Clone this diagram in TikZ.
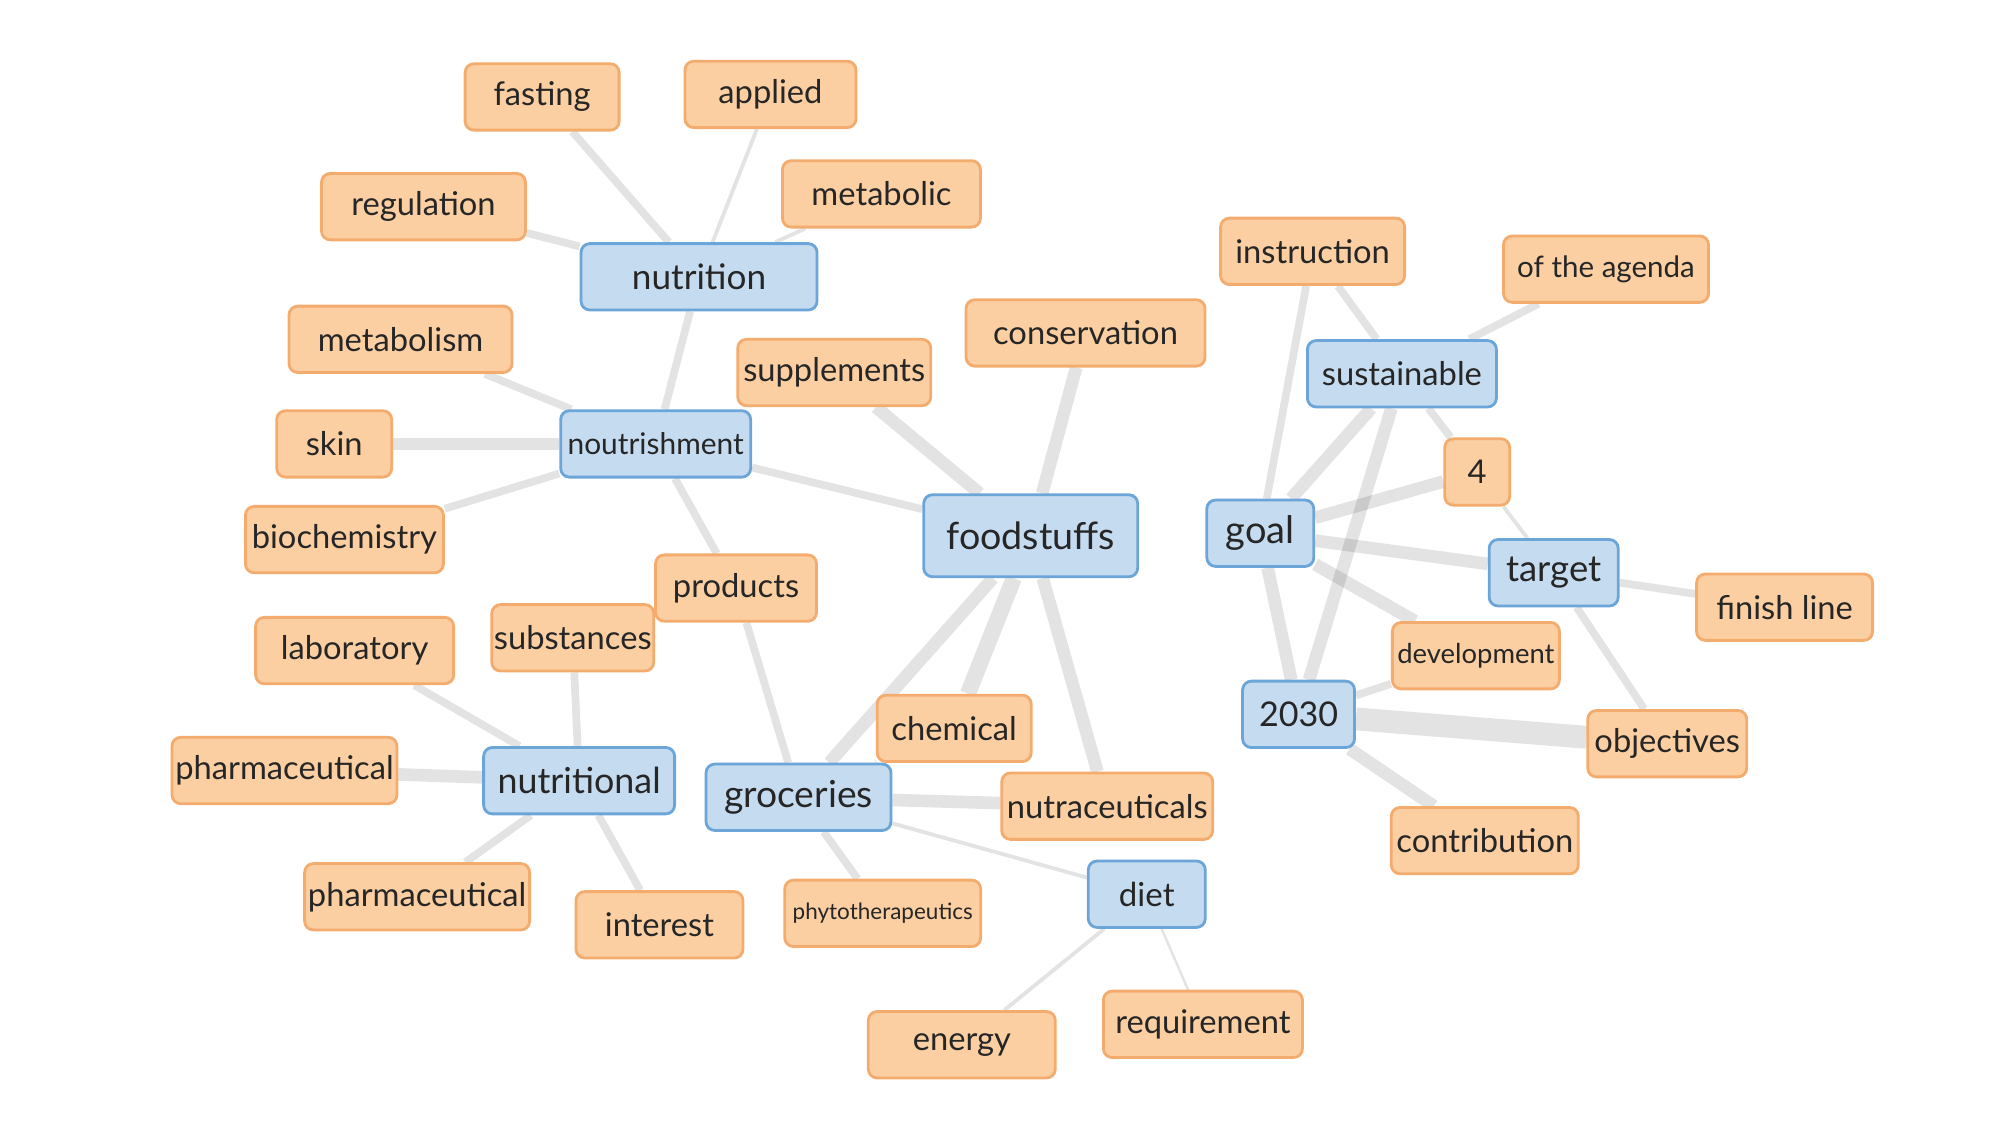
\documentclass[tikz,border=0pt]{standalone}
\usepackage{fontspec}
\setmainfont{Lato}
\usetikzlibrary{backgrounds}
\definecolor{peach}{RGB}{252,207,162}
\definecolor{peachline}{RGB}{243,172,110}
\definecolor{sky}{RGB}{197,219,240}
\definecolor{skyline}{RGB}{108,165,216}
\begin{document}
\begin{tikzpicture}[x=0.01276cm, y=-0.01276cm,
	fs/.style={font=\fontsize{#1}{#1}\selectfont},
	every node/.style={rounded corners=2.5pt, line width=0.8pt, inner sep=0pt, minimum height=0.664cm, text=black!85, fs=9.3},
	leaf/.style={draw=peachline, fill=peach, minimum width=#1cm},
	hub/.style={draw=skyline, fill=sky, minimum width=#1cm, fs=10.3},
	link/.style={draw=black, opacity=0.11, line cap=butt},
	w1/.style={link, line width=1.1pt},
	w2/.style={link, line width=2.2pt},
	w3/.style={link, line width=3.6pt},
	w4/.style={link, line width=4.6pt},
	w5/.style={link, line width=6.5pt}]
	
	\useasboundingbox (0cm,0cm) rectangle (20cm,-11.25cm);
	
	% Nutrition cluster
	\node[hub=2.36, fs=10] (nutrition) at (548,217) {nutrition};
	\node[leaf=1.54] (fasting) at (425,76) {fasting};
	\node[leaf=1.71] (applied) at (604,74) {applied};
	\node[leaf=2.04] (regulation) at (332,162) {regulation};
	\node[leaf=1.98] (metabolic) at (691,152) {metabolic};
	
	% Noutrishment cluster
	\node[hub=1.90, fs=8.5] (noutrishment) at (514,348) {noutrishment};
	\node[leaf=2.23] (metabolism) at (314,266) {metabolism};
	\node[leaf=1.15] (skin) at (262,348) {skin};
	\node[leaf=1.98] (biochemistry) at (270,423) {biochemistry};
	\node[leaf=1.61] (products) at (577,461) {products};
	
	% Foodstuffs
	\node[hub=2.14, minimum height=0.82cm, fs=10.7] (foodstuffs) at (808,420) {foodstuffs};
	\node[leaf=1.93] (supplements) at (654,292) {supplements};
	\node[leaf=2.39] (conservation) at (851,261) {conservation};
	\node[leaf=1.54] (chemical) at (748,571) {chemical};
	\node[leaf=2.11] (nutraceuticals) at (868,632) {nutraceuticals};
	
	% Nutritional cluster
	\node[hub=1.91, fs=10.2] (nutritional) at (454,612) {nutritional};
	\node[leaf=1.62] (substances) at (449,500) {substances};
	\node[leaf=1.98] (laboratory) at (278,510) {laboratory};
	\node[leaf=2.25] (pharmaA) at (223,604) {pharmaceutical};
	\node[leaf=2.25] (pharmaB) at (327,703) {pharmaceutical};
	\node[leaf=1.67] (interest) at (517,725) {interest};
	
	% Groceries and diet
	\node[hub=1.85, fs=10.6] (groceries) at (626,625) {groceries};
	\node[leaf=1.96, fs=6.4] (phyto) at (692,716) {phytotherapeutics};
	\node[hub=1.17, fs=9.4] (diet) at (899,701) {diet};
	\node[leaf=1.87] (energy) at (754,819) {energy};
	\node[leaf=1.99] (requirement) at (943,803) {requirement};
	
	% Goal cluster
	\node[hub=1.07, fs=10.8] (goal) at (988,418) {goal};
	\node[hub=1.89, fs=9.3] (sustainable) at (1099,293) {sustainable};
	\node[hub=1.29, fs=10.4] (target) at (1218,449) {target};
	\node[hub=1.12, fs=9.7] (y2030) at (1018,560) {2030};
	\node[leaf=1.84] (instruction) at (1029,197) {instruction};
	\node[leaf=2.05, fs=8.4] (agenda) at (1259,211) {of the agenda};
	\node[leaf=0.65] (four) at (1158,370) {4};
	\node[leaf=1.67, fs=7.8] (development) at (1157,514) {development};
	\node[leaf=1.76] (finish) at (1399,476) {finish line};
	\node[leaf=1.59] (objectives) at (1307,583) {objectives};
	\node[leaf=1.87] (contribution) at (1164,659) {contribution};
	
	% Links
	\begin{scope}[on background layer]
		\draw[w2] (nutrition) -- (fasting);
		\draw[w1] (nutrition) -- (applied);
		\draw[w2] (nutrition) -- (regulation);
		\draw[w1] (nutrition) -- (metabolic);
		\draw[w2] (nutrition) -- (noutrishment);
		\draw[w2] (noutrishment) -- (metabolism);
		\draw[w3] (noutrishment) -- (skin);
		\draw[w2] (noutrishment) -- (biochemistry);
		\draw[w2] (noutrishment) -- (products);
		\draw[w2] (noutrishment) -- (foodstuffs);
		\draw[w3] (foodstuffs) -- (supplements);
		\draw[w3] (foodstuffs) -- (conservation);
		\draw[w3] (foodstuffs) -- (groceries);
		\draw[w4] (foodstuffs) -- (chemical);
		\draw[w3] (foodstuffs) -- (nutraceuticals);
		\draw[w2] (products) -- (groceries);
		\draw[w2] (nutritional) -- (substances);
		\draw[w2] (nutritional) -- (laboratory);
		\draw[w3] (nutritional) -- (pharmaA);
		\draw[w2] (nutritional) -- (pharmaB);
		\draw[w2] (nutritional) -- (interest);
		\draw[w2] (groceries) -- (chemical);
		\draw[w3] (groceries) -- (nutraceuticals);
		\draw[w2] (groceries) -- (phyto);
		\draw[w1] (groceries) -- (diet);
		\draw[w1] (diet) -- (energy);
		\draw[link, line width=0.7pt] (diet) -- (requirement);
		\draw[w2] (goal) -- (instruction);
		\draw[w3] (goal) -- (sustainable);
		\draw[w3] (goal) -- (four);
		\draw[w3] (goal) -- (target);
		\draw[w3] (goal) -- (development);
		\draw[w3] (goal) -- (y2030);
		\draw[w2] (sustainable) -- (instruction);
		\draw[w2] (sustainable) -- (agenda);
		\draw[w2] (sustainable) -- (four);
		\draw[w3] (sustainable) -- (y2030);
		\draw[w1] (four) -- (target);
		\draw[w2] (target) -- (finish);
		\draw[w2] (target) -- (objectives);
		\draw[w2] (y2030) -- (development);
		\draw[w5] (y2030) -- (objectives);
		\draw[w3] (y2030) -- (contribution);
	\end{scope}
\end{tikzpicture}
\end{document}
